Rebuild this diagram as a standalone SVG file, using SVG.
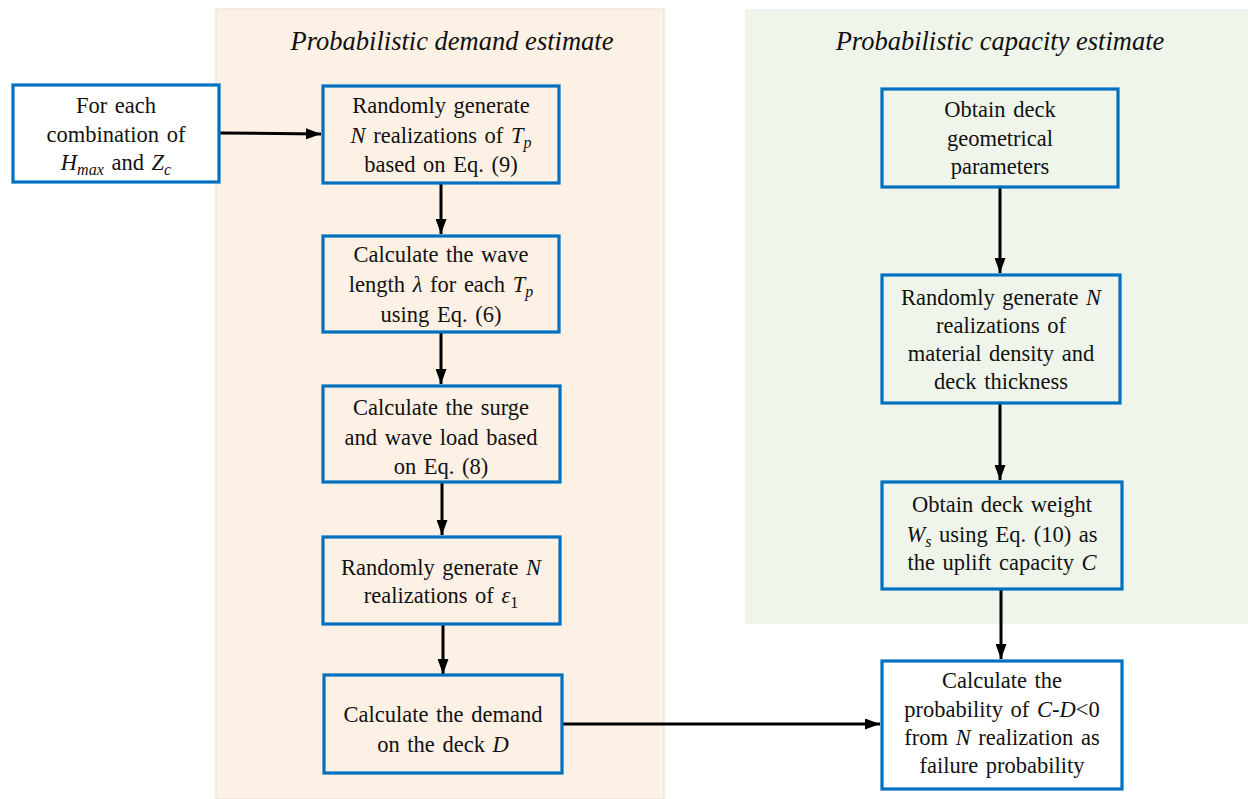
<svg xmlns="http://www.w3.org/2000/svg" width="1248" height="799" viewBox="0 0 1248 799">
<defs>
<marker id="ah" markerWidth="15" markerHeight="11" refX="15" refY="5.5" orient="auto" markerUnits="userSpaceOnUse">
<path d="M0,0 L15,5.5 L0,11 Z" fill="#000"/>
</marker>
<style>
.box{fill:none;stroke:#0070c0;stroke-width:3.2}
.wbox{fill:#fff;stroke:#0070c0;stroke-width:3.2}
.t{font-size:22.5px;fill:#111;text-anchor:middle;word-spacing:2px}
.i{font-style:italic}
.s{font-size:16px}
.ttl{font-size:26.5px;font-style:italic;fill:#111;text-anchor:middle}
.c{stroke:#000;stroke-width:3;fill:none;marker-end:url(#ah)}
</style>
</defs>
<rect x="0" y="0" width="1248" height="799" fill="#fff"/>
<g id="demand-panel" font-family="'Liberation Serif', 'Times New Roman', serif">
<rect x="216" y="9" width="448" height="790" fill="#fdf0e4" stroke="#e6ddd5" stroke-width="1"/>
<text class="ttl" x="452" y="50">Probabilistic demand estimate</text>
</g>
<g id="capacity-panel" font-family="'Liberation Serif', 'Times New Roman', serif">
<rect x="745" y="9" width="503" height="615" fill="#eff5ea"/>
<text class="ttl" x="1000" y="50">Probabilistic capacity estimate</text>
</g>
<g id="connectors">
<line class="c" x1="220" y1="133" x2="321" y2="134"/>
<line class="c" x1="441" y1="184" x2="441" y2="234"/>
<line class="c" x1="441" y1="333" x2="441" y2="384"/>
<line class="c" x1="442" y1="483" x2="442" y2="535"/>
<line class="c" x1="443" y1="624" x2="443" y2="674"/>
<line class="c" x1="562" y1="724" x2="880" y2="724"/>
<line class="c" x1="1000" y1="187" x2="1000" y2="273"/>
<line class="c" x1="1000" y1="403" x2="1000" y2="480"/>
<line class="c" x1="1001" y1="589" x2="1001" y2="659"/>
</g>
<g font-family="'Liberation Serif', 'Times New Roman', serif">
<g id="n-input">
<rect class="wbox" x="13" y="85" width="206" height="97"/>
<text class="t" x="116" y="113">For each</text>
<text class="t" x="116" y="142">combination of</text>
<text class="t" x="116" y="170"><tspan class="i">H</tspan><tspan class="i s" dy="5">max</tspan><tspan dy="-5"> and </tspan><tspan class="i">Z</tspan><tspan class="i s" dy="5">c</tspan></text>
</g>
<g id="n-tp">
<rect class="box" x="323" y="86" width="236" height="97"/>
<text class="t" x="441" y="113">Randomly generate</text>
<text class="t" x="441" y="143"><tspan class="i">N</tspan> realizations of <tspan class="i">T</tspan><tspan class="i s" dy="5">p</tspan></text>
<text class="t" x="441" y="172">based on Eq. (9)</text>
</g>
<g id="n-lambda">
<rect class="box" x="323" y="236" width="236" height="96"/>
<text class="t" x="441" y="262">Calculate the wave</text>
<text class="t" x="441" y="292">length <tspan class="i">λ</tspan> for each <tspan class="i">T</tspan><tspan class="i s" dy="5">p</tspan></text>
<text class="t" x="441" y="322">using Eq. (6)</text>
</g>
<g id="n-load">
<rect class="box" x="323" y="386" width="237" height="96"/>
<text class="t" x="441" y="415">Calculate the surge</text>
<text class="t" x="441" y="445">and wave load based</text>
<text class="t" x="441" y="474">on Eq. (8)</text>
</g>
<g id="n-eps">
<rect class="box" x="323" y="537" width="237" height="87"/>
<text class="t" x="441" y="575">Randomly generate <tspan class="i">N</tspan></text>
<text class="t" x="441" y="603">realizations of <tspan class="i">ε</tspan><tspan class="s" dy="5">1</tspan></text>
</g>
<g id="n-demand">
<rect class="box" x="324" y="675" width="238" height="98"/>
<text class="t" x="443" y="722">Calculate the demand</text>
<text class="t" x="443" y="752">on the deck <tspan class="i">D</tspan></text>
</g>
<g id="n-geom">
<rect class="box" x="882" y="89" width="236" height="98"/>
<text class="t" x="1000" y="117">Obtain deck</text>
<text class="t" x="1000" y="146">geometrical</text>
<text class="t" x="1000" y="174">parameters</text>
</g>
<g id="n-density">
<rect class="box" x="882" y="275" width="238" height="128"/>
<text class="t" x="1001" y="305">Randomly generate <tspan class="i">N</tspan></text>
<text class="t" x="1001" y="333">realizations of</text>
<text class="t" x="1001" y="361">material density and</text>
<text class="t" x="1001" y="389">deck thickness</text>
</g>
<g id="n-weight">
<rect class="box" x="882" y="482" width="240" height="107"/>
<text class="t" x="1002" y="512">Obtain deck weight</text>
<text class="t" x="1002" y="542"><tspan class="i">W</tspan><tspan class="i s" dy="5">s</tspan><tspan dy="-5"> using Eq. (10) as</tspan></text>
<text class="t" x="1002" y="570">the uplift capacity <tspan class="i">C</tspan></text>
</g>
<g id="n-prob">
<rect class="wbox" x="882" y="661" width="240" height="128"/>
<text class="t" x="1002" y="688">Calculate the</text>
<text class="t" x="1002" y="717">probability of <tspan class="i">C</tspan>-<tspan class="i">D</tspan>&lt;0</text>
<text class="t" x="1002" y="745">from <tspan class="i">N</tspan> realization as</text>
<text class="t" x="1002" y="773">failure probability</text>
</g>
</g>
</svg>
